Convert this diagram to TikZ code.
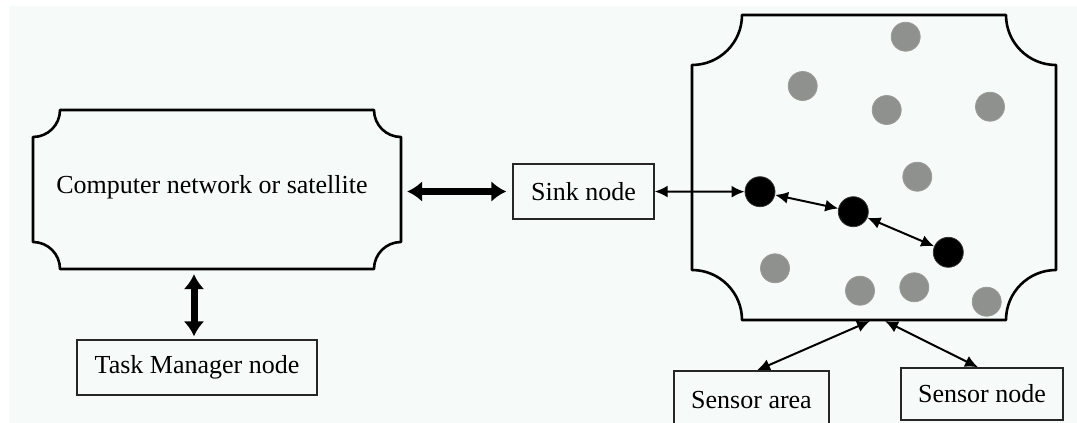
\documentclass[tikz,border=0pt]{standalone}
\usepackage{fontspec}
\setmainfont{Liberation Serif}
\usetikzlibrary{arrows.meta}
\definecolor{bgc}{HTML}{F6FAF8}
\definecolor{dotgray}{HTML}{8E918E}
\begin{document}
\begin{tikzpicture}[x=1pt,y=-1pt,
  every node/.style={font=\fontsize{26}{30}\selectfont},
  boxnode/.style={draw=black!85,line width=1.4pt,rectangle,inner sep=0pt,fill=bgc},
  scroll/.style={draw=black,line width=2.6pt,line join=round},
  bigarrow/.style={line width=7pt,{Latex[length=15pt,width=21pt]}-{Latex[length=15pt,width=21pt]}},
  thinarrow/.style={line width=2pt,{Latex[length=13pt,width=12pt]}-{Latex[length=13pt,width=12pt]}},
  graydot/.style={circle,fill=dotgray,draw=dotgray!90,line width=0.8pt,minimum size=29pt,inner sep=0pt},
  blackdot/.style={circle,fill=black,draw=black!80,line width=0.8pt,minimum size=30pt,inner sep=0pt}]
\useasboundingbox (0,0) rectangle (1077,423);
\fill[white] (0,0) rectangle (1077,423);
\fill[bgc] (9,6) rectangle (1077,423);
% left scroll box
\draw[scroll] (60,110) -- (374,110) .. controls (374,124.9) and (386.1,137) .. (401,137)
  -- (401,242) .. controls (386.1,242) and (374,254.1) .. (374,269)
  -- (60,269) .. controls (60,254.1) and (47.9,242) .. (33,242)
  -- (33,137) .. controls (47.9,137) and (60,124.9) .. (60,110) -- cycle;
\node[rectangle,minimum width=368pt,minimum height=159pt,inner sep=0pt] (net) at (217,189.5) {};
\node (nettext) at (212,187) {Computer network or satellite};
% right scroll box (sensor field)
\draw[scroll] (742,15) -- (1006,15) .. controls (1006,42.6) and (1028.4,65) .. (1056,65)
  -- (1056,270) .. controls (1028.4,270) and (1006,292.4) .. (1006,320)
  -- (742,320) .. controls (742,292.4) and (719.6,270) .. (692,270)
  -- (692,65) .. controls (719.6,65) and (742,42.6) .. (742,15) -- cycle;
\coordinate (areaPt) at (870,321);
\coordinate (nodePt) at (885,321);
% boxes
\node[boxnode,minimum width=141pt,minimum height=55pt] (sink) at (583.5,191.5) {Sink node};
\node[boxnode,minimum width=240pt,minimum height=55pt] (tm) at (197,367.5) {Task Manager node};
\node[boxnode,minimum width=155pt,minimum height=58pt] (sarea) at (751.5,400) {Sensor area};
\node[boxnode,minimum width=162pt,minimum height=52pt] (snode) at (982,394) {Sensor node};
% gray sensor dots
\node[graydot] (g1) at (905.7,36.7) {};
\node[graydot] (g2) at (802.7,86) {};
\node[graydot] (g3) at (886.7,110) {};
\node[graydot] (g4) at (990,106.7) {};
\node[graydot] (g5) at (917.3,176.7) {};
\node[graydot] (g6) at (775,268.3) {};
\node[graydot] (g7) at (860,290.7) {};
\node[graydot] (g8) at (914.3,287.3) {};
\node[graydot] (g9) at (986.7,301.7) {};
% black route dots
\node[blackdot] (a) at (760,191.7) {};
\node[blackdot] (b) at (853.3,211.7) {};
\node[blackdot] (c) at (948.3,252.3) {};
% connectors
\draw[bigarrow,shorten <=6pt,shorten >=6pt] (net.east |- sink.west) -- (sink.west);
\draw[bigarrow,shorten <=5pt,shorten >=3pt] (net.south -| 194,0) -- (tm.north -| 194,0);
\draw[thinarrow] (sink.east) -- (a.west);
\draw[thinarrow] (a) -- (b);
\draw[thinarrow] (b) -- (c);
\draw[thinarrow] (sarea.north -| 757,0) -- (areaPt);
\draw[thinarrow] (nodePt) -- (snode.north -| 978,0);
\end{tikzpicture}
\end{document}
